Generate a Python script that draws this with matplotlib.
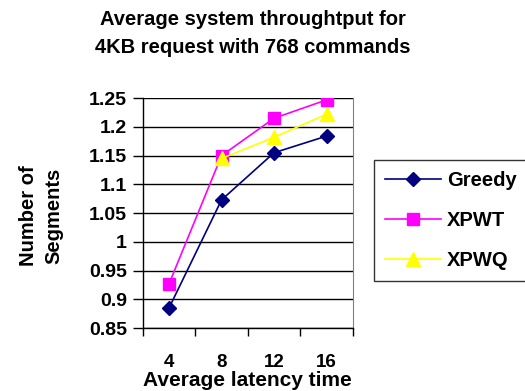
import numpy as np
import matplotlib
matplotlib.use("Agg")
import matplotlib.pyplot as plt

plt.rcParams['font.family'] = ['Liberation Sans', 'DejaVu Sans']
plt.rcParams['font.weight'] = 'bold'

# data
latency = ["4", "8", "12", "16"]
greedy = [0.885, 1.073, 1.155, 1.184]
xpwt = [0.927, 1.150, 1.215, 1.247]
xpwq = [np.nan, 1.145, 1.182, 1.222]

fig = plt.figure(figsize=(5.25, 3.91), dpi=100)
ax = fig.add_axes([0.272, 0.161, 0.400, 0.588])

x = np.arange(len(latency))
ax.plot(x, greedy, color='#000080', marker='D', markersize=7.5, lw=1.2, label='Greedy', zorder=3)
ax.plot(x, xpwt, color='#ff00ff', marker='s', markersize=9, lw=1.2, label='XPWT', zorder=3)
ax.plot(x, xpwq, color='#ffff00', marker='^', markersize=10, lw=1.2, label='XPWQ', zorder=4)

ax.set_xlim(-0.5, 3.5)
ax.set_ylim(0.85, 1.25)
ax.set_yticks(np.arange(0.85, 1.2501, 0.05))
ax.set_yticklabels(['0.85', '0.9', '0.95', '1', '1.05', '1.1', '1.15', '1.2', '1.25'])
ax.set_xticks(x)
ax.set_xticklabels(latency)
ax.set_xticks(np.arange(-0.5, 3.6, 1), minor=True)
ax.tick_params(axis='x', which='major', length=0, pad=19, labelsize=13.5)
ax.tick_params(axis='x', which='minor', length=6, width=1, direction='out')
ax.tick_params(axis='y', length=7.5, width=1, direction='out', labelsize=14, pad=4)
ax.yaxis.grid(True, color='black', lw=1)
ax.set_axisbelow(True)
ax.spines['top'].set_visible(False)
ax.spines['right'].set_color('#808080')
ax.spines['left'].set_linewidth(1)
ax.spines['bottom'].set_linewidth(1)

ax.set_xlabel('Average latency time', fontsize=15, fontweight='bold', labelpad=0)
fig.text(0.079, 0.448, 'Number of\nSegments', rotation=90, ha='center', va='center',
         fontsize=14.5, fontweight='bold', linespacing=1.45)
fig.text(0.482, 0.975, 'Average system throughtput for\n4KB request with 768 commands',
         ha='center', va='top', fontsize=14.5, fontweight='bold', linespacing=1.6)

leg = ax.legend(loc='upper left', bbox_to_anchor=(0.712, 0.591), bbox_transform=fig.transFigure,
                frameon=True, fancybox=False, edgecolor='black', fontsize=14.5,
                handlelength=2.8, labelspacing=1.05, borderpad=0.55, handletextpad=0.3,
                borderaxespad=0)
leg.get_frame().set_linewidth(1)

fig.savefig('out.png', dpi=100)
